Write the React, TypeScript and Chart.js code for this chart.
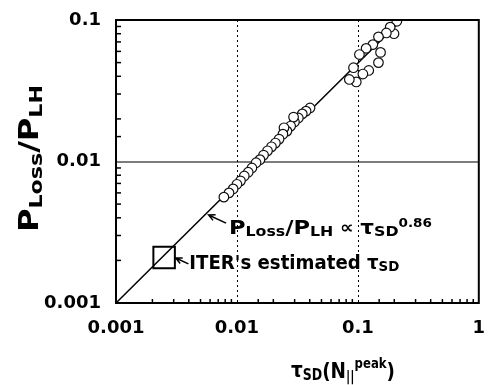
import React, { useEffect, useRef } from 'react';
import { Chart, registerables } from 'chart.js';
Chart.register(...registerables);

// ---- axis ranges & tick labels ----
const xMin = 0.001;
const xMax = 1;
const yMin = 0.001;
const yMax = 0.1;
const xTickLabels = ['0.001', '0.01', '0.1', '1'];
const yTickLabels = ['0.001', '0.01', '0.1'];
const gridYValues = [0.01];
const gridXValues = [0.01, 0.1];

// ---- measured data (open circles), ordered from high to low tau ----
const circleX = [
  0.210, 0.199, 0.185, 0.172, 0.154, 0.148, 0.148, 0.133, 0.123, 0.117, 0.110, 0.103, 0.097, 0.092, 0.085,
  0.0402, 0.0373, 0.0347, 0.0322, 0.0299, 0.0294, 0.0278, 0.0259, 0.0245, 0.0240, 0.0223, 0.0208, 0.0193,
  0.0179, 0.0166, 0.0155, 0.0144, 0.0133, 0.0124, 0.0115, 0.0107, 0.0100, 0.0093, 0.0086, 0.0078,
];
const circleY = [
  0.098, 0.080, 0.089, 0.081, 0.059, 0.076, 0.050, 0.067, 0.044, 0.063, 0.0415, 0.057, 0.0365, 0.046, 0.038,
  0.0239, 0.0227, 0.0217, 0.0203, 0.0190, 0.0206, 0.0178, 0.0164, 0.0173, 0.0156, 0.0144, 0.0135, 0.0127,
  0.0119, 0.0111, 0.0103, 0.0098, 0.0090, 0.0084, 0.0079, 0.0073, 0.0069, 0.0064, 0.0060, 0.0056,
];

// ---- fitted scaling line  P/P_LH ∝ tau^0.86 (end points) ----
const fitX = [0.001, 0.229];
const fitY = [0.001, 0.1];

// ---- ITER estimate (square) ----
const iterX = [0.0025];
const iterY = [0.0021];

// ---- annotation anchors (data coordinates) ----
const ann1Anchor = [0.00859, 0.00307];
const ann1Arrow = [0.00813, 0.00367, 0.00583, 0.00419]; // tail x,y  tip x,y
const ann2Anchor = [0.00404, 0.00174];
const ann2Arrow = [0.00397, 0.00189, 0.00312, 0.00208];

const FONT = '"DejaVu Sans", sans-serif';

type Run = { t: string; s: number; dy: number };

function richWidth(ctx: CanvasRenderingContext2D, runs: Run[]) {
  let w = 0;
  for (const r of runs) {
    ctx.font = `bold ${r.s}px ${FONT}`;
    w += ctx.measureText(r.t).width;
  }
  return w;
}

function drawRich(
  ctx: CanvasRenderingContext2D,
  runs: Run[],
  x: number,
  y: number,
  target: number,
  rot = 0
) {
  ctx.save();
  ctx.translate(x, y);
  if (rot) ctx.rotate(rot);
  const w = richWidth(ctx, runs);
  ctx.scale(target / w, 1);
  ctx.textAlign = 'left';
  ctx.textBaseline = 'alphabetic';
  ctx.fillStyle = '#000';
  let cx = 0;
  for (const r of runs) {
    ctx.font = `bold ${r.s}px ${FONT}`;
    ctx.fillText(r.t, cx, r.dy);
    cx += ctx.measureText(r.t).width;
  }
  ctx.restore();
}

function arrow(ctx: CanvasRenderingContext2D, x1: number, y1: number, x2: number, y2: number) {
  const ang = Math.atan2(y2 - y1, x2 - x1);
  const h = 7;
  ctx.beginPath();
  ctx.moveTo(x1, y1);
  ctx.lineTo(x2, y2);
  ctx.moveTo(x2 - h * Math.cos(ang - 0.45), y2 - h * Math.sin(ang - 0.45));
  ctx.lineTo(x2, y2);
  ctx.lineTo(x2 - h * Math.cos(ang + 0.45), y2 - h * Math.sin(ang + 0.45));
  ctx.stroke();
}

const isDecade = (v: number) => {
  const l = Math.log10(v);
  return Math.abs(l - Math.round(l)) < 1e-6;
};

const decor = {
  id: 'decor',
  beforeDatasetsDraw(chart: any) {
    const { ctx, chartArea: a, scales } = chart;
    const x = scales.x;
    const y = scales.y;
    ctx.save();
    ctx.strokeStyle = '#7c7c7c';
    ctx.lineWidth = 2;
    for (const v of gridYValues) {
      const py = Math.round(y.getPixelForValue(v));
      ctx.beginPath();
      ctx.moveTo(a.left, py);
      ctx.lineTo(a.right, py);
      ctx.stroke();
    }
    ctx.strokeStyle = '#000';
    ctx.lineWidth = 1;
    ctx.setLineDash([2, 3]);
    for (const v of gridXValues) {
      const px = Math.round(x.getPixelForValue(v)) + 0.5;
      ctx.beginPath();
      ctx.moveTo(px, a.top);
      ctx.lineTo(px, a.bottom);
      ctx.stroke();
    }
    ctx.restore();
  },
  afterDatasetsDraw(chart: any) {
    const { ctx, chartArea: a, scales } = chart;
    const x = scales.x;
    const y = scales.y;
    ctx.save();
    // inward minor ticks
    ctx.strokeStyle = '#000';
    ctx.lineWidth = 1.5;
    for (const t of x.ticks) {
      if (isDecade(t.value)) continue;
      const px = x.getPixelForValue(t.value);
      ctx.beginPath();
      ctx.moveTo(px, a.bottom);
      ctx.lineTo(px, a.bottom - 4);
      ctx.stroke();
    }
    for (const t of y.ticks) {
      if (isDecade(t.value)) continue;
      const py = y.getPixelForValue(t.value);
      ctx.beginPath();
      ctx.moveTo(a.left, py);
      ctx.lineTo(a.left + 5, py);
      ctx.stroke();
    }
    // frame
    ctx.lineWidth = 2;
    ctx.strokeRect(a.left, a.top, a.right - a.left, a.bottom - a.top);

    // arrows
    ctx.lineWidth = 1.5;
    arrow(
      ctx,
      x.getPixelForValue(ann1Arrow[0]), y.getPixelForValue(ann1Arrow[1]),
      x.getPixelForValue(ann1Arrow[2]), y.getPixelForValue(ann1Arrow[3])
    );
    arrow(
      ctx,
      x.getPixelForValue(ann2Arrow[0]), y.getPixelForValue(ann2Arrow[1]),
      x.getPixelForValue(ann2Arrow[2]), y.getPixelForValue(ann2Arrow[3])
    );

    // annotation texts
    drawRich(
      ctx,
      [
        { t: 'P', s: 20, dy: 0 },
        { t: 'Loss', s: 14, dy: 2 },
        { t: '/', s: 20, dy: 0 },
        { t: 'P', s: 20, dy: 0 },
        { t: 'LH', s: 14, dy: 2 },
        { t: ' ∝ ', s: 17, dy: -1 },
        { t: 'τ', s: 19, dy: 0 },
        { t: 'SD', s: 14, dy: 2 },
        { t: '0.86', s: 12, dy: -7 },
      ],
      x.getPixelForValue(ann1Anchor[0]),
      y.getPixelForValue(ann1Anchor[1]),
      203
    );
    drawRich(
      ctx,
      [
        { t: "ITER's estimated ", s: 19, dy: 0 },
        { t: 'τ', s: 19, dy: 0 },
        { t: 'SD', s: 14, dy: 2 },
      ],
      x.getPixelForValue(ann2Anchor[0]),
      y.getPixelForValue(ann2Anchor[1]),
      210
    );

    // axis titles
    drawRich(
      ctx,
      [
        { t: 'τ', s: 22, dy: -1 },
        { t: 'SD', s: 15, dy: 2 },
        { t: '(', s: 22, dy: 0 },
        { t: 'N', s: 22, dy: 0 },
        { t: '||', s: 14, dy: 3 },
        { t: 'peak', s: 14, dy: -10 },
        { t: ')', s: 22, dy: 0 },
      ],
      291, 378, 104
    );
    drawRich(
      ctx,
      [
        { t: 'P', s: 26, dy: 0 },
        { t: 'Loss', s: 18, dy: 4 },
        { t: '/', s: 26, dy: 0 },
        { t: 'P', s: 26, dy: 0 },
        { t: 'LH', s: 18, dy: 4 },
      ],
      38, 232, 147, -Math.PI / 2
    );
    ctx.restore();
  },
};

export default function App() {
  const ref = useRef<HTMLCanvasElement | null>(null);
  useEffect(() => {
    if (!ref.current) return;
    const circles = circleX.map((v, i) => ({ x: v, y: circleY[i] }));
    const fit = fitX.map((v, i) => ({ x: v, y: fitY[i] }));
    const iter = iterX.map((v, i) => ({ x: v, y: iterY[i] }));
    const chart = new Chart(ref.current, {
      type: 'scatter',
      data: {
        datasets: [
          {
            data: circles,
            order: 0,
            pointStyle: 'circle',
            pointRadius: 4.8,
            borderColor: '#111',
            backgroundColor: '#fff',
            borderWidth: 1.2,
          },
          {
            data: iter,
            order: 1,
            pointStyle: 'rect',
            pointRadius: 15.2,
            borderColor: '#000',
            backgroundColor: 'rgba(0,0,0,0)',
            borderWidth: 2,
          },
          {
            type: 'line',
            data: fit,
            order: 2,
            borderColor: '#000',
            borderWidth: 1.5,
            pointRadius: 0,
            fill: false,
          } as any,
        ],
      },
      options: {
        animation: false,
        responsive: false,
        events: [],
        layout: { padding: { top: 20, right: 4, left: 0, bottom: 0 } },
        plugins: { legend: { display: false }, tooltip: { enabled: false } },
        scales: {
          x: {
            type: 'logarithmic',
            min: xMin,
            max: xMax,
            grid: { display: false, drawTicks: false },
            border: { display: false },
            afterFit: (s: any) => {
              s.height = 82;
              s.paddingLeft = 0;
              s.paddingRight = 0;
            },
            ticks: {
              autoSkip: false,
              maxRotation: 0,
              padding: 15,
              color: '#000',
              font: { family: FONT, size: 18, weight: 'bold' },
              callback: (v: any) => {
                const n = Number(v);
                if (!isDecade(n)) return '';
                return xTickLabels[Math.round(Math.log10(n / xMin))] ?? '';
              },
            },
          },
          y: {
            type: 'logarithmic',
            min: yMin,
            max: yMax,
            grid: { display: false, drawTicks: false },
            border: { display: false },
            afterFit: (s: any) => {
              s.width = 116;
              s.paddingTop = 0;
              s.paddingBottom = 0;
            },
            ticks: {
              autoSkip: false,
              padding: 15,
              color: '#000',
              font: { family: FONT, size: 18, weight: 'bold' },
              callback: (v: any) => {
                const n = Number(v);
                if (!isDecade(n)) return '';
                return yTickLabels[Math.round(Math.log10(n / yMin))] ?? '';
              },
            },
          },
        },
      },
      plugins: [decor],
    });
    return () => chart.destroy();
  }, []);
  return (
    <div style={{ position: 'fixed', left: 0, top: 0, width: 496, height: 385, background: '#fff' }}>
      <canvas ref={ref} width={496} height={385} style={{ width: 496, height: 385, display: 'block' }} />
    </div>
  );
}
